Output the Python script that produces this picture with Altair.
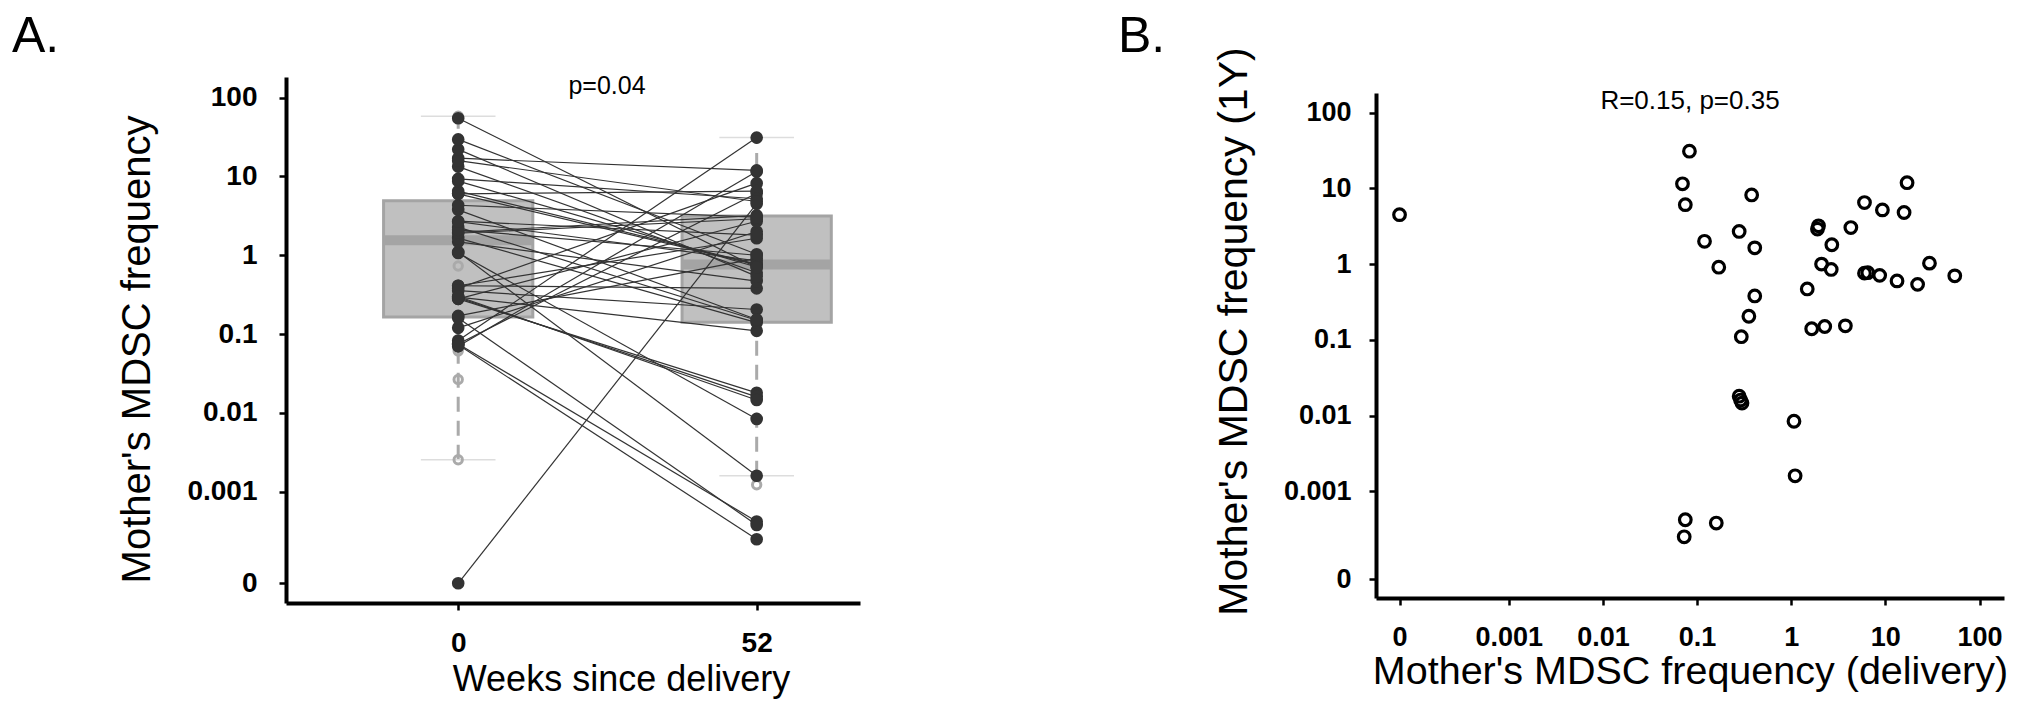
import math
import altair as alt
import pandas as pd

# ---------------- data ----------------
weeks = [0, 52]

# paired samples: MDSC frequency at delivery (week 0) and at 1 year (week 52)
mdsc_delivery = [0, 0.083, 0.070, 0.075, 0.12, 0.17, 0.28, 0.38, 0.41, 0.41, 0.355, 0.295,
                 0.28, 0.29, 0.30, 1.07, 1.10, 0.075, 0.073, 0.16, 1.48, 1.65, 2.27, 3.76,
                 1.90, 1.95, 2.10, 2.70, 2.66, 4.30, 6.0, 6.0, 6.5, 8.7, 9.3, 13.3, 17.0,
                 15.8, 22.0, 29.4, 54.6]
mdsc_1y = [4.5, 31, 11.5, 6.1, 2.0, 0.91, 2.7, 8.2, 1.64, 0.38, 0.205, 0.11,
           0.018, 0.016, 0.0146, 0.0084, 0.0016, 0.00042, 0.00025, 0.00038, 0.47, 0.14, 0.15, 0.153,
           2.9, 3.2, 1.0, 1.8, 0.85, 3.04, 6.5, 0.76, 0.77, 0.71, 5.2, 0.6, 11.9,
           4.8, 0.54, 1.03, 0.7]

# box plot statistics (all samples)
box_q1 = [0.165, 0.141]
box_median = [1.55, 0.76]
box_q3 = [4.9, 3.15]
whisker_low = [0.00255, 0.0016]
whisker_high = [58, 31]

# unpaired samples (grey open circles)
extra_week = [0, 0, 0, 0, 0, 52]
extra_value = [58, 0.73, 0.061, 0.0266, 0.00255, 0.00123]

tick_values = [0, 0.001, 0.01, 0.1, 1, 10, 100]
tick_labels = ["0", "0.001", "0.01", "0.1", "1", "10", "100"]

annot_a = "p=0.04"
annot_b = "R=0.15, p=0.35"

# ---------------- scale helpers ----------------
ZERO_POS = -4.16          # where the value 0 sits on the log axis
AXIS_DOMAIN = [-4.41, 2.26]
WEEK_DOMAIN = [-30, 70]
BOX_HALF = 13
CAP_HALF = 6.5
FONT = "Liberation Sans, Arial, Helvetica, sans-serif"


def tr(v):
    return math.log10(v) if v > 0 else ZERO_POS


tick_pos = [tr(v) for v in tick_values]


def label_expr(pos, labels):
    expr = "''"
    for p, lab in zip(pos, labels):
        expr = f"abs(datum.value - ({p:.4f})) < 0.01 ? '{lab}' : ({expr})"
    return expr


LABEL_EXPR = label_expr(tick_pos, tick_labels)

n = len(mdsc_delivery)
pairs = pd.DataFrame({
    "id": list(range(n)) * 2,
    "week": [weeks[0]] * n + [weeks[1]] * n,
    "value": mdsc_delivery + mdsc_1y,
})
pairs["t"] = pairs["value"].map(tr)

box = pd.DataFrame({"week": weeks, "q1": box_q1, "med": box_median, "q3": box_q3,
                    "lo": whisker_low, "hi": whisker_high})
for c in ["q1", "med", "q3", "lo", "hi"]:
    box["t_" + c] = box[c].map(tr)
box["xl"] = box["week"] - BOX_HALF
box["xr"] = box["week"] + BOX_HALF
box["cl"] = box["week"] - CAP_HALF
box["cr"] = box["week"] + CAP_HALF

extra = pd.DataFrame({"week": extra_week, "value": extra_value})
extra["t"] = extra["value"].map(tr)

scatter = pd.DataFrame({"delivery": mdsc_delivery, "year1": mdsc_1y})
scatter["tx"] = scatter["delivery"].map(tr)
scatter["ty"] = scatter["year1"].map(tr)

wk_scale = alt.Scale(domain=WEEK_DOMAIN, nice=False, zero=False)
lg_scale = alt.Scale(domain=AXIS_DOMAIN, nice=False, zero=False)
# panel B's y axis starts a little lower than panel A's
HEIGHT_B = 521
lg_scale_by = alt.Scale(domain=AXIS_DOMAIN, nice=False, zero=False, range=[HEIGHT_B, 16])

common_axis = dict(grid=False, domainColor="black", domainWidth=4, tickColor="black",
                   tickWidth=2.5, tickSize=7, labelColor="black", titleColor="black",
                   labelFont=FONT, titleFont=FONT, labelFontWeight="bold",
                   titleFontWeight="normal", labelFlush=False, labelOverlap=False)

axis_xa = alt.Axis(values=weeks, format="d", title="Weeks since delivery",
                   titleFontSize=36, titleX=335, titlePadding=5,
                   labelFontSize=28, labelPadding=19, **common_axis)
axis_ya = alt.Axis(values=tick_pos, labelExpr=LABEL_EXPR,
                   title="Mother's MDSC frequency", titleFontSize=40,
                   titleY=272, titlePadding=29, labelFontSize=28,
                   labelPadding=22, **common_axis)


def xw(field):
    return alt.X(field, type="quantitative", scale=wk_scale, axis=axis_xa,
                 title="Weeks since delivery")


def yl(field):
    return alt.Y(field, type="quantitative", scale=lg_scale, axis=axis_ya,
                 title="Mother's MDSC frequency")


# ---------------- panel A ----------------
box_rect = alt.Chart(box).mark_rect(fill="#c0c0c0", stroke="#a4a4a4", strokeWidth=3).encode(
    x=xw("xl"), x2="xr:Q", y=yl("t_q1"), y2="t_q3:Q")
median_band = alt.Chart(box).mark_rule(color="#a4a4a4", strokeWidth=10).encode(
    x=xw("xl"), x2="xr:Q", y=yl("t_med"))
whisk_lo = alt.Chart(box).mark_rule(color="#aaaaaa", strokeWidth=3, strokeDash=[15, 9]).encode(
    x=xw("week"), y=yl("t_lo"), y2="t_q1:Q")
whisk_hi = alt.Chart(box).mark_rule(color="#aaaaaa", strokeWidth=3, strokeDash=[15, 9]).encode(
    x=xw("week"), y=yl("t_q3"), y2="t_hi:Q")
cap_lo = alt.Chart(box).mark_rule(color="#dddddd", strokeWidth=1.5).encode(
    x=xw("cl"), x2="cr:Q", y=yl("t_lo"))
cap_hi = alt.Chart(box).mark_rule(color="#dddddd", strokeWidth=1.5).encode(
    x=xw("cl"), x2="cr:Q", y=yl("t_hi"))
grey_pts = alt.Chart(extra).mark_point(shape="circle", filled=False, color="#aaaaaa",
                                       strokeWidth=3, size=70, opacity=1).encode(
    x=xw("week"), y=yl("t"))
pair_lines = alt.Chart(pairs).mark_line(color="#333333", strokeWidth=1.2).encode(
    x=xw("week"), y=yl("t"), detail="id:N")
pair_pts = alt.Chart(pairs).mark_circle(color="#333333", size=160, opacity=1).encode(
    x=xw("week"), y=yl("t"))
text_a = alt.Chart(pd.DataFrame({"label": [annot_a]})).mark_text(
    fontSize=25, align="center", baseline="alphabetic", color="black", font=FONT).encode(
    x=alt.value(321), y=alt.value(17), text="label:N")
tag_a = alt.Chart(pd.DataFrame({"label": ["A."]})).mark_text(
    fontSize=50, align="left", baseline="alphabetic", color="black", font=FONT).encode(
    x=alt.value(-274), y=alt.value(-25), text="label:N")

no_frame = alt.ViewBackground(stroke="transparent", strokeWidth=0)

panel_a = alt.layer(box_rect, median_band, whisk_lo, whisk_hi, cap_lo, cap_hi, grey_pts,
                    pair_lines, pair_pts, text_a, tag_a).properties(
    width=574, height=526, view=no_frame)

# ---------------- panel B ----------------
pts_b = alt.Chart(scatter).mark_point(shape="circle", filled=False, color="black",
                                      strokeWidth=3.2, size=135, opacity=1).encode(
    x=alt.X("tx:Q", scale=lg_scale,
            axis=alt.Axis(values=tick_pos, labelExpr=LABEL_EXPR,
                          title="Mother's MDSC frequency (delivery)", titleFontSize=39.5,
                          titlePadding=2, labelFontSize=27, labelPadding=19, **common_axis)),
    y=alt.Y("ty:Q", scale=lg_scale_by,
            axis=alt.Axis(values=tick_pos, labelExpr=LABEL_EXPR,
                          title="Mother's MDSC frequency (1Y)", titleFontSize=41,
                          titleY=254, titlePadding=28, labelFontSize=27,
                          labelPadding=18, **common_axis)),
)
text_b = alt.Chart(pd.DataFrame({"label": [annot_b]})).mark_text(
    fontSize=26, align="center", baseline="alphabetic", color="black", font=FONT).encode(
    x=alt.value(314), y=alt.value(31.5), text="label:N")
tag_b = alt.Chart(pd.DataFrame({"label": ["B."]})).mark_text(
    fontSize=50, align="left", baseline="alphabetic", color="black", font=FONT).encode(
    x=alt.value(-258), y=alt.value(-25), text="label:N")

panel_b = alt.layer(pts_b, text_b, tag_b).properties(width=628, height=HEIGHT_B, view=no_frame)

chart = alt.hconcat(panel_a, panel_b, spacing=258).properties(
    padding={"left": 4, "top": 4, "right": 2, "bottom": 4}
).configure_view(stroke="transparent", strokeWidth=0).configure(font=FONT, background="white")

chart.save("out.html", embed_options={"renderer": "svg", "actions": False})
